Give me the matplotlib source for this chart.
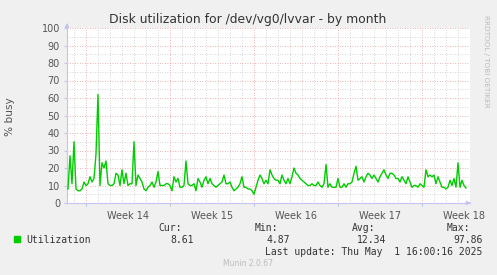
import matplotlib
matplotlib.use("Agg")
import matplotlib.pyplot as plt
import matplotlib.dates as mdates
import pandas as pd

# disk utilization samples (% busy), 4-hour steps, ending at last update
utilization = [
    8, 27, 11, 35, 8, 7, 7, 8, 12, 10, 11, 15, 12, 14, 28, 62, 10, 23, 20, 24,
    11, 10, 10, 11, 17, 16, 10, 19, 11, 17, 10, 11, 11, 35, 10, 16, 14, 12, 8, 7,
    9, 10, 12, 9, 12, 18, 10, 10, 10, 11, 11, 10, 7, 15, 12, 14, 9, 9, 10, 24,
    11, 10, 10, 11, 7, 14, 12, 9, 13, 15, 11, 14, 11, 10, 9, 10, 11, 12, 16, 11,
    11, 12, 9, 7, 8, 9, 11, 15, 9, 9, 8, 8, 7, 5, 9, 13, 16, 14, 11, 13,
    11, 19, 16, 14, 13, 13, 11, 16, 13, 11, 14, 11, 15, 20, 17, 16, 14, 13, 12, 11,
    10, 10, 11, 10, 10, 12, 10, 9, 11, 22, 9, 11, 9, 9, 9, 14, 9, 9, 11, 9,
    11, 11, 12, 17, 21, 13, 14, 15, 12, 15, 17, 16, 14, 16, 14, 12, 15, 17, 19, 16,
    14, 17, 17, 16, 14, 14, 12, 15, 13, 11, 15, 12, 9, 10, 10, 9, 11, 10, 9, 19,
    15, 16, 15, 16, 11, 15, 12, 9, 9, 8, 9, 13, 10, 14, 9, 23, 9, 13, 10, 8.61,
]
last_update = pd.Timestamp("2025-05-01 16:00")
times = pd.date_range(end=last_update, periods=len(utilization), freq="4h")

weeks = ["Week 14", "Week 15", "Week 16", "Week 17", "Week 18"]
week_starts = pd.date_range("2025-03-31", periods=5, freq="7D")

stats_names = ["Cur:", "Min:", "Avg:", "Max:"]
stats_values = ["8.61", "4.87", "12.34", "97.86"]

bg = "#F0F0F0"
axis_col = "#C4C4F0"
txt = "#555555"

fig = plt.figure(figsize=(4.97, 2.75), dpi=100, facecolor=bg)
W, H = 497, 275
ax = fig.add_axes([67 / W, 1 - 203 / H, 403 / W, 175 / H])
ax.set_facecolor("white")

x0 = pd.Timestamp("2025-03-31") - pd.Timedelta(hours=38)
x1 = pd.Timestamp("2025-05-02")
ax.set_xlim(x0, x1)
ax.set_ylim(0, 100)

# grid: days (minor, grey) and weeks (major, red); 5 / 10 on y
for d in pd.date_range("2025-03-30", "2025-05-01", freq="D"):
    if d in week_starts:
        continue
    ax.axvline(d, color="#C8C8C8", lw=0.6, ls=(0, (1, 2)), zorder=1)
for d in week_starts:
    ax.axvline(d, color="#E69A9A", lw=0.6, ls=(0, (1, 2)), zorder=1)
for v in range(5, 100, 10):
    ax.axhline(v, color="#C8C8C8", lw=0.6, ls=(0, (1, 2)), zorder=1)
for v in range(10, 101, 10):
    ax.axhline(v, color="#E69A9A", lw=0.6, ls=(0, (1, 2)), zorder=1)

ax.plot(times, utilization, color="#00CC00", lw=1.0, zorder=3)

for s in ["top", "right"]:
    ax.spines[s].set_visible(False)
for s in ["left", "bottom"]:
    ax.spines[s].set_color(axis_col)
    ax.spines[s].set_linewidth(0.8)

ax.set_yticks(range(0, 101, 10))
ax.tick_params(axis="y", length=2, color=axis_col, labelsize=7, labelcolor=txt, pad=3)
ax.set_xticks(week_starts)
ax.set_xticklabels([])
ax.tick_params(axis="x", length=2, color=axis_col)
for w, d in zip(weeks, week_starts):
    ax.text(d + pd.Timedelta(hours=84), -4.5, w, ha="center", va="top",
            fontsize=7, color=txt, clip_on=False)

ax.annotate("", xy=(0, 1.045), xytext=(0, 0.98), xycoords="axes fraction",
            arrowprops=dict(arrowstyle="-|>", color=axis_col, lw=0.8, mutation_scale=6))
ax.annotate("", xy=(1.009, 0), xytext=(0.99, 0), xycoords="axes fraction",
            arrowprops=dict(arrowstyle="-|>", color=axis_col, lw=0.8, mutation_scale=6))

fig.text(248 / W, 1 - 19 / H, "Disk utilization for /dev/vg0/lvvar - by month",
         ha="center", va="center", fontsize=8.9, color="#333333")
fig.text(10 / W, 1 - 117 / H, "% busy", rotation=90, ha="center", va="center",
         fontsize=7.6, color=txt)
fig.text(486 / W, 1 - 15 / H, "RRDTOOL / TOBI OETIKER", rotation=270,
         ha="center", va="top", fontsize=5.2, color="#BBBBBB")

# legend
mono = "DejaVu Sans Mono"
fig.patches.append(plt.Rectangle((14 / W, 1 - 242 / H), 6 / W, 6 / H,
                                 transform=fig.transFigure, color="#00CC00"))
fig.text(26 / W, 1 - 240 / H, "Utilization", family=mono, fontsize=7,
         color="#333333", va="center")
name_x = [158, 255, 351.5, 447]
val_x = [193.5, 290, 386.5, 482.5]
for n, v, nx, vx in zip(stats_names, stats_values, name_x, val_x):
    fig.text(nx / W, 1 - 228 / H, n, family=mono, fontsize=7, color="#333333", va="center")
    fig.text(vx / W, 1 - 240 / H, v, family=mono, fontsize=7, color="#333333",
             va="center", ha="right")
fig.text(482.5 / W, 1 - 252 / H, "Last update: Thu May  1 16:00:16 2025",
         family=mono, fontsize=7, color="#333333", va="center", ha="right")
fig.text(248 / W, 1 - 264 / H, "Munin 2.0.67", ha="center", va="center",
         fontsize=5.5, color="#BBBBBB")

fig.savefig("out.png", dpi=100, facecolor=bg)
